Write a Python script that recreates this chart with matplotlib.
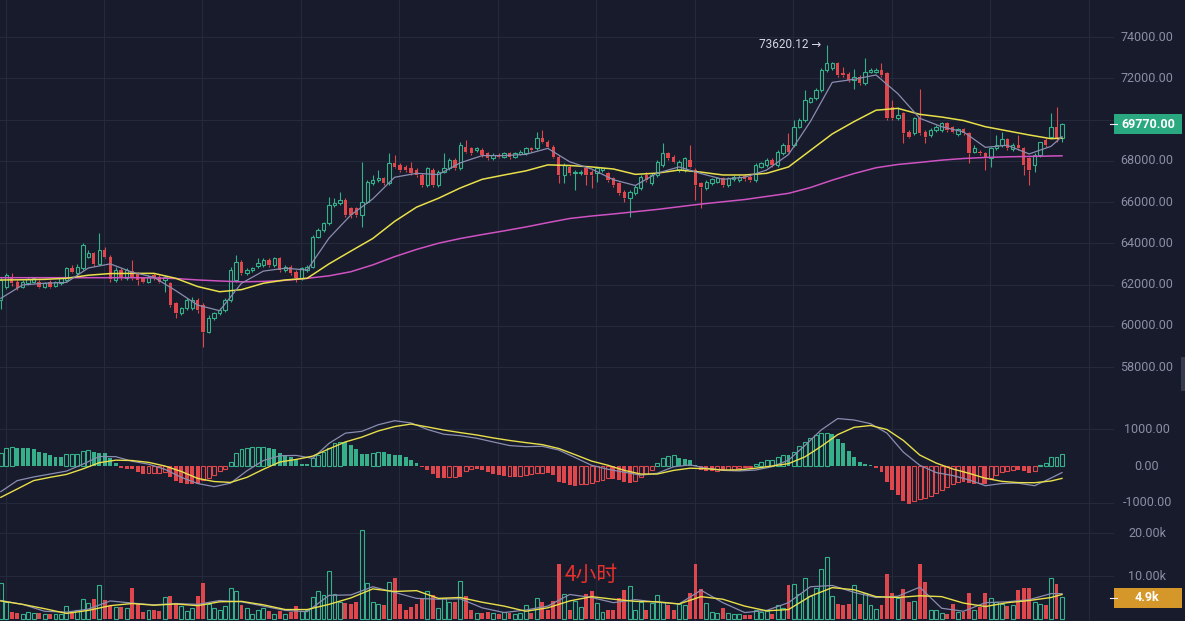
import numpy as np
import matplotlib
matplotlib.use("Agg")
import matplotlib.pyplot as plt
from matplotlib.patches import Rectangle
from matplotlib.transforms import blended_transform_factory

# ---- candles (4h) ----
opn = [61250, 61900, 62380, 62140, 61900, 62060, 62140, 62140, 61900, 62140,
       61940, 62060, 62220, 62780, 62540, 62780, 63350, 63510, 63010, 63670,
       63350, 62220, 62700, 62300, 62640, 62540, 62300, 62140, 62460, 62380,
       62220, 62060, 61100, 60600, 60850, 60850, 61250, 61000, 59710, 60360,
       60600, 60770, 61250, 62220, 63110, 62540, 62700, 62900, 62950, 63190,
       62950, 63270, 62700, 62860, 62620, 62300, 62700, 62870, 64320, 64640,
       64970, 65850, 65930, 66100, 65690, 65690, 65370, 66020, 66910, 67070,
       67150, 66910, 67880, 67800, 67710, 67630, 67550, 67310, 66830, 67550,
       66830, 67470, 67630, 68040, 67630, 68680, 68600, 68520, 68520, 68360,
       68120, 68280, 68200, 68390, 68200, 68330, 68360, 68600, 68600, 69090,
       68930, 68680, 68200, 67310, 67710, 67390, 67390, 67630, 67470, 67390,
       67550, 67390, 67150, 66910, 66500, 66180, 66420, 66660, 67310, 66910,
       67310, 67790, 68360, 68200, 67550, 67550, 68040, 67550, 66910, 66660,
       66910, 66990, 67150, 66830, 67100, 67070, 67260, 67230, 67070, 67710,
       67790, 68040, 67790, 68360, 68760, 68760, 69650, 69980, 70870, 71030,
       71430, 72400, 72480, 72750, 72240, 72210, 71920, 72080, 71750, 72320,
       72320, 72400, 72240, 70620, 70060, 70300, 69410, 69330, 70060, 69410,
       69250, 69490, 69490, 69810, 69620, 69300, 69520, 69330, 68440, 68440,
       68360, 68120, 68600, 68760, 69040, 68550, 68760, 68600, 68120, 67790,
       68280, 69010, 69170, 69650, 69090]
high = [62380, 62540, 62540, 62220, 62220, 62380, 62380, 62220, 62140, 62220,
        62180, 62380, 62860, 62940, 63000, 64000, 63670, 63600, 64480, 63830,
        63430, 62860, 62780, 62780, 63200, 62620, 62380, 62460, 62540, 62460,
        62460, 62140, 61170, 60930, 61330, 61410, 61330, 61090, 60520, 60680,
        60850, 61330, 62860, 63430, 63190, 62780, 62860, 63270, 63270, 63270,
        63350, 63350, 62940, 62940, 62700, 62860, 62950, 64400, 64720, 65050,
        66260, 66180, 66500, 66180, 65770, 65770, 67960, 67070, 67310, 67550,
        67230, 68360, 68280, 67880, 67800, 67960, 67630, 67390, 67710, 67630,
        67550, 68360, 68120, 68120, 68930, 69010, 68680, 68680, 68600, 68440,
        68360, 68360, 68440, 68440, 68440, 68520, 68680, 68680, 69410, 69490,
        69010, 68760, 68280, 67870, 67790, 67550, 67550, 67710, 67550, 67710,
        67710, 67470, 67230, 66990, 66580, 66580, 66830, 67310, 67470, 67390,
        68040, 68840, 68440, 68280, 68040, 68200, 68760, 67630, 66990, 67070,
        67180, 67230, 67230, 67230, 67310, 67310, 67340, 67310, 67870, 67960,
        68120, 68120, 68520, 68840, 69330, 69980, 70060, 71430, 71110, 71510,
        72480, 73620, 72800, 72800, 72560, 72290, 72430, 72160, 72960, 72480,
        72480, 72720, 72320, 70950, 70620, 70380, 69490, 70140, 71460, 69490,
        69570, 69730, 69900, 69900, 69700, 69600, 69600, 69410, 68770, 68520,
        68440, 68680, 69250, 69410, 69120, 68840, 69250, 68680, 68200, 68360,
        68930, 69090, 70330, 70590, 69820]
low = [60800, 61800, 61950, 61740, 61820, 61980, 62060, 61820, 61820, 61820,
       61860, 61980, 62140, 62540, 62460, 62700, 63270, 62900, 62940, 63270,
       62140, 62140, 62220, 62220, 62220, 61980, 62060, 62060, 62220, 62060,
       61650, 60920, 60360, 60520, 60770, 60770, 60600, 58990, 59630, 60280,
       60520, 60680, 61170, 62140, 62460, 62460, 62620, 62800, 62870, 62870,
       62870, 62620, 62620, 62460, 62140, 62220, 62620, 62780, 64240, 64560,
       64890, 65770, 65850, 65290, 65210, 65290, 64800, 65930, 66830, 66990,
       66830, 66830, 67630, 67470, 67470, 67310, 67230, 66740, 66740, 66740,
       66750, 67390, 67550, 67550, 67550, 68360, 68280, 68440, 68200, 68040,
       68040, 68120, 68120, 68100, 68120, 68280, 68280, 68440, 68520, 68850,
       68600, 68120, 66900, 66910, 67310, 66580, 67310, 66830, 66660, 66990,
       67470, 66990, 66740, 66340, 66020, 65290, 66340, 66580, 66990, 66830,
       67230, 67710, 68040, 67870, 67470, 67470, 67630, 66100, 65690, 66580,
       66830, 66910, 66740, 66740, 67020, 66990, 67020, 66990, 66990, 67630,
       67710, 67710, 67710, 68280, 68360, 68680, 69570, 69900, 70790, 70950,
       71350, 72320, 72400, 72080, 72080, 71840, 71460, 71670, 71670, 72240,
       72240, 72080, 69980, 69980, 69980, 68850, 69090, 69250, 69250, 68850,
       69170, 69410, 69410, 69410, 69330, 69220, 69250, 67880, 68360, 68280,
       67550, 67710, 68520, 68680, 68520, 68480, 68520, 67310, 66830, 67470,
       68200, 68680, 69090, 68930, 68930]
close = [62220, 62460, 62060, 61820, 62140, 62260, 62300, 61900, 62060, 61900,
         62100, 62300, 62800, 62620, 62860, 63900, 63510, 63000, 63670, 63350,
         62250, 62700, 62300, 62700, 62300, 62220, 62140, 62380, 62300, 62140,
         62380, 61000, 60600, 60850, 61250, 61250, 60770, 59710, 60360, 60600,
         60770, 61250, 62700, 63110, 62540, 62700, 62800, 63030, 63190, 62950,
         63270, 62700, 62860, 62540, 62300, 62780, 62870, 64320, 64640, 64970,
         65850, 65930, 66100, 65370, 65370, 65370, 66020, 66990, 67070, 67150,
         66910, 67880, 67710, 67550, 67550, 67390, 67310, 66830, 67630, 66830,
         67470, 67630, 68040, 67630, 68760, 68440, 68360, 68600, 68280, 68120,
         68280, 68200, 68360, 68170, 68360, 68440, 68600, 68520, 69090, 68930,
         68680, 68200, 67310, 67790, 67390, 67470, 67470, 67310, 67310, 67630,
         67630, 67070, 66830, 66420, 66180, 66500, 66740, 67230, 67070, 67310,
         67960, 68360, 68120, 67960, 67960, 68120, 67710, 66830, 66740, 66990,
         67100, 67150, 66830, 67150, 67230, 67230, 67100, 67070, 67790, 67870,
         68040, 67790, 68440, 68760, 68440, 69650, 69980, 70950, 71030, 71430,
         72400, 72720, 72720, 72160, 72160, 71920, 72080, 71750, 72320, 72400,
         72400, 72160, 70060, 70060, 70220, 69330, 69170, 70060, 69330, 69170,
         69490, 69650, 69810, 69490, 69410, 69520, 69330, 68360, 68600, 68360,
         68120, 68600, 68760, 69040, 68600, 68760, 68600, 67790, 67550, 68280,
         68930, 68760, 69650, 69090, 69770]

# ---- price moving averages ----
ma_idx = list(range(0, 193, 4)) + [194]
ma_short = [61330, 61980, 62060, 62100, 62800, 63000, 62600, 62350, 61700, 61000,
            60730, 62060, 62650, 62790, 62700, 64250, 65370, 66150, 67200, 67390,
            67330, 67900, 68250, 68250, 68310, 68600, 67950, 67600, 67080, 66800,
            67400, 67700, 67380, 67100, 67200, 67550, 68300, 69900, 71800, 71950,
            72160, 71250, 70060, 69650, 69400, 68650, 68750, 68330, 68700, 69170]
ma_mid = [62220, 62230, 62250, 62300, 62450, 62530, 62540, 62540, 62300, 61900,
          61650, 61750, 62060, 62220, 62300, 63000, 63620, 64230, 65060, 65750,
          66180, 66680, 67100, 67310, 67510, 67800, 67770, 67700, 67600, 67340,
          67400, 67550, 67450, 67310, 67310, 67390, 67700, 68500, 69300, 69900,
          70450, 70540, 70250, 70120, 69950, 69650, 69450, 69250, 69070, 69100]
ma_long = [62330, 62330, 62330, 62330, 62330, 62330, 62330, 62320, 62290, 62220,
           62170, 62130, 62150, 62200, 62300, 62420, 62620, 62950, 63350, 63700,
           64000, 64230, 64420, 64600, 64790, 65000, 65200, 65320, 65420, 65530,
           65640, 65770, 65900, 66010, 66120, 66270, 66420, 66700, 67060, 67380,
           67660, 67820, 67920, 68030, 68110, 68160, 68190, 68210, 68230, 68240]

# ---- MACD ----
macd_hist = [347, 484, 511, 493, 490, 480, 457, 393, 365, 301, 256, 250, 320, 325, 330,
             420, 425, 393, 365, 347, 210, 73, -64, -91, -95, -155, -219, -200, -195, -185,
             -160, -300, -420, -470, -480, -485, -490, -380, -330, -260, -150, -80, 119, 365, 457,
             502, 511, 515, 520, 484, 457, 365, 301, 256, 164, 55, 50, 210, 301, 393,
             484, 620, 666, 660, 575, 457, 329, 320, 365, 384, 370, 340, 301, 295, 237,
             164, 91, -37, -110, -219, -338, -340, -300, -292, -300, -128, -91, -95, -110, -155,
             -219, -246, -274, -270, -292, -280, -260, -230, -183, -180, -183, -246, -429, -475, -520,
             -548, -493, -480, -456, -402, -383, -340, -345, -383, -429, -456, -402, -292, -219, -110,
             73, 210, 274, 301, 210, 183, 164, 27, -110, -150, -150, -135, -140, -110, -100,
             -64, -37, -30, 55, 119, 164, 165, 256, 300, 295, 393, 548, 666, 758, 849,
             895, 900, 877, 730, 620, 420, 256, 119, 55, 27, -64, -155, -429, -657, -794,
             -950, -1040, -950, -913, -886, -822, -749, -657, -566, -500, -429, -440, -456, -480, -470,
             -493, -338, -246, -155, -130, -110, -120, -140, -183, -130, 30, 73, 237, 240, 329]
macd_idx = list(range(0, 193, 3)) + [194]
macd_dif = [-703, -400, -300, -220, -140, 50, 260, 256, 130, 50, -90, -310, -480, -566, -470,
            -130, 150, 280, 290, 210, 620, 900, 950, 1130, 1240, 1180, 1000, 870, 830, 760,
            660, 560, 530, 540, 438, 230, 20, -90, -170, -250, -200, -20, 30, -60, -120,
            -135, -110, -18, 160, 560, 990, 1300, 1260, 1160, 900, 380, 20, -180, -260, -380,
            -540, -480, -470, -540, -330, -180]
macd_dea = [-858, -630, -400, -310, -230, -80, 90, 160, 150, 100, 0, -150, -340, -425, -450,
            -310, -90, 110, 180, 270, 470, 660, 790, 960, 1080, 1150, 1070, 985, 915, 850,
            770, 700, 640, 585, 480, 310, 135, 20, -120, -220, -220, -120, -60, -75, -110,
            -105, -60, 0, 65, 250, 540, 860, 1060, 1110, 1000, 700, 300, 80, -80, -200,
            -335, -420, -455, -458, -410, -340]

# ---- volume (thousands) ----
volume = [8.4, 4.0, 1.7, 1.5, 1.2, 1.7, 1.5, 1.5, 1.2, 1.2, 1.1, 1.1, 3.0, 1.7, 2.2,
          4.6, 3.8, 4.6, 7.8, 4.5, 3.0, 2.8, 2.8, 2.5, 7.1, 3.6, 1.7, 2.2, 2.2, 1.9,
          5.2, 5.3, 3.8, 3.0, 1.9, 2.6, 5.3, 8.4, 3.4, 2.5, 2.2, 3.0, 7.1, 6.5, 3.2,
          2.6, 1.2, 2.2, 2.6, 1.9, 1.1, 1.9, 1.1, 1.7, 3.0, 1.9, 2.2, 5.2, 6.5, 5.5,
          11.2, 5.7, 4.0, 3.8, 3.6, 4.0, 20.6, 8.4, 4.0, 3.6, 3.2, 8.7, 9.5, 3.6, 2.0,
          2.8, 3.6, 5.0, 6.5, 5.5, 2.5, 5.0, 4.0, 4.0, 8.8, 5.3, 2.0, 1.5, 1.5, 1.7,
          1.5, 1.1, 1.7, 1.5, 1.2, 1.5, 3.2, 1.5, 4.8, 4.0, 2.0, 4.3, 12.9, 5.9, 2.2,
          4.3, 2.8, 5.9, 6.4, 3.8, 1.7, 2.2, 2.2, 4.8, 6.7, 7.7, 2.2, 4.0, 2.2, 3.8,
          5.6, 4.0, 3.3, 2.2, 3.6, 3.3, 6.1, 12.9, 6.9, 3.8, 1.7, 1.5, 2.6, 1.5, 1.2,
          1.1, 0.9, 0.9, 2.0, 1.7, 1.9, 1.2, 3.3, 2.6, 7.8, 8.1, 5.7, 9.5, 5.3, 7.3,
          11.6, 14.5, 5.3, 3.6, 3.2, 3.4, 7.8, 3.6, 6.1, 3.2, 2.4, 3.2, 10.4, 6.1, 5.0,
          6.9, 4.0, 4.3, 12.7, 8.7, 2.2, 2.0, 1.5, 1.2, 3.4, 1.7, 1.6, 6.0, 2.0, 2.8,
          6.1, 5.0, 4.0, 3.4, 3.0, 3.2, 6.7, 7.1, 7.1, 4.0, 3.6, 3.2, 9.5, 8.2, 5.1]
vol_ma_idx = list(range(0, 193, 4)) + [194]
vol_ma_a = [4.2, 3.4, 2.4, 1.3, 2.0, 3.1, 3.6, 3.2, 3.5, 3.1, 4.0, 4.1, 3.3, 2.2, 2.2,
            3.4, 4.9, 7.0, 6.4, 6.6, 4.8, 5.0, 3.9, 3.0, 1.8, 2.6, 4.2, 5.2, 4.6, 4.1,
            4.0, 3.5, 5.2, 4.6, 3.0, 1.9, 2.2, 5.3, 7.3, 6.8, 5.2, 5.0, 5.4, 5.2, 3.7,
            2.9, 3.8, 4.3, 5.0, 5.7]
vol_ma_b = [4.3, 3.4, 1.8, 1.6, 2.3, 4.2, 3.7, 3.3, 3.6, 3.4, 4.3, 4.0, 3.0, 2.0, 1.7,
            5.5, 5.6, 7.5, 6.2, 4.8, 4.6, 4.7, 2.6, 1.5, 2.1, 3.0, 5.7, 5.0, 3.8, 4.5,
            3.9, 3.5, 6.7, 3.8, 1.5, 2.0, 3.8, 7.5, 7.8, 6.2, 5.0, 5.3, 7.4, 2.5, 1.8,
            3.8, 4.0, 4.5, 5.9, 5.9]

price_ticks = [58000, 60000, 62000, 64000, 66000, 68000, 70000, 72000, 74000]
last_price = "69770.00"
last_vol = "4.9k"
peak_label = "73620.12 \u2192"

BG = "#171b2b"
GRID = "#242a3b"
GREEN = "#35b08a"
RED = "#e0474c"
TICK = "#8a8fa6"
MA_GRAY = "#8a8db0"
MA_YEL = "#e8df4a"
MA_MAG = "#cf52c2"

W, H = 1185, 621
fig = plt.figure(figsize=(W / 100, H / 100), dpi=100, facecolor=BG)


def px_axes(top, bottom):
    return fig.add_axes([0, 1 - bottom / H, 1114 / W, (bottom - top) / H], facecolor=BG)


ax_p = px_axes(0, 400)
ax_m = px_axes(400, 515)
ax_v = px_axes(515, 621)

opn, high, low, close = map(np.array, (opn, high, low, close))
x = np.arange(len(close))
up = close >= opn
cols = np.where(up, GREEN, RED)
xlim = (-0.8 / 5.47, (1114 - 0.8) / 5.47)

for ax in (ax_p, ax_m, ax_v):
    ax.set_xlim(*xlim)
    for s in ax.spines.values():
        s.set_visible(False)
    ax.set_xticks([])
    ax.set_yticks([])
    for g in np.arange(0.87, 205, 18):
        ax.axvline(g, color=GRID, lw=0.8, zorder=0)

# price panel
ax_p.set_ylim(56400, 75794)
for t in price_ticks:
    ax_p.axhline(t, color=GRID, lw=0.8, zorder=0)
bot = np.minimum(opn, close)
top = np.maximum(opn, close)
body = np.maximum(top - bot, 25)
ax_p.vlines(x, low, bot, color=cols, lw=0.8, zorder=2)
ax_p.vlines(x, top, high, color=cols, lw=0.8, zorder=2)
ax_p.bar(x[up], body[up], bottom=bot[up], width=0.62, facecolor=BG,
         edgecolor=GREEN, linewidth=0.8, zorder=3)
ax_p.bar(x[~up], body[~up], bottom=bot[~up], width=0.62, color=RED, zorder=3)
ax_p.plot(ma_idx, ma_long, color=MA_MAG, lw=1.1, zorder=4)
ax_p.plot(ma_idx, ma_mid, color=MA_YEL, lw=1.1, zorder=4)
ax_p.plot(ma_idx, ma_short, color=MA_GRAY, lw=0.9, zorder=4)
ax_p.text(151 - 1.0, 73620, peak_label, color="#d4d7e3", fontsize=8.5,
          family=["Roboto", "DejaVu Sans"], ha="right", va="center", zorder=5)

# MACD panel
ax_m.set_ylim(-1342, 1808)
for t in (-1000, 1000):
    ax_m.axhline(t, color=GRID, lw=0.8, zorder=0)
hist = np.array(macd_hist)
rising = np.r_[True, hist[1:] > hist[:-1]]
hcol = np.where(hist >= 0, GREEN, RED)
for i, v in enumerate(hist):
    if rising[i]:
        ax_m.bar(i, v, width=0.72, facecolor=BG, edgecolor=hcol[i], linewidth=0.8, zorder=2)
    else:
        ax_m.bar(i, v, width=0.72, color=hcol[i], zorder=2)
ax_m.plot(macd_idx, macd_dif, color=MA_GRAY, lw=0.9, zorder=3)
ax_m.plot(macd_idx, macd_dea, color=MA_YEL, lw=1.0, zorder=3)

# volume panel
ax_v.set_ylim(-0.465, 24.19)
for t in (10, 20):
    ax_v.axhline(t, color=GRID, lw=0.8, zorder=0)
vol = np.array(volume)
ax_v.bar(x[up], vol[up], width=0.72, facecolor=BG, edgecolor=GREEN, linewidth=0.8, zorder=2)
ax_v.bar(x[~up], vol[~up], width=0.72, color=RED, zorder=2)
ax_v.plot(vol_ma_idx, vol_ma_b, color=MA_GRAY, lw=0.9, zorder=3)
ax_v.plot(vol_ma_idx, vol_ma_a, color=MA_YEL, lw=1.0, zorder=3)
ax_v.text(103, 10.3, "4小时", color="#e8302e", fontsize=15,
          family=["Noto Sans CJK SC", "DejaVu Sans"], ha="left", va="center", zorder=5)

# right-hand labels
lab_x = 1147 / W
tick_font = dict(color=TICK, fontsize=9, family=["Roboto", "DejaVu Sans"],
                 ha="center", va="center")
for ax, ticks, fmt in ((ax_p, [t for t in price_ticks if t != 70000], "{:.2f}"),
                       (ax_m, [1000, 0, -1000], "{:.2f}"),
                       (ax_v, [20, 10], "{:.2f}k")):
    tr = blended_transform_factory(fig.transFigure, ax.transData)
    for t in ticks:
        ax.text(lab_x, t, fmt.format(t), transform=tr, clip_on=False, **tick_font)

tr = blended_transform_factory(fig.transFigure, ax_p.transData)
ax_p.add_patch(Rectangle((1114 / W, 69770 - 480), 68 / W, 960, transform=tr,
                         facecolor="#2aa880", edgecolor="none", clip_on=False, zorder=6))
ax_p.plot([1110 / W, 1117 / W], [69770, 69770], transform=tr, color="#e8e8ee",
          lw=0.8, clip_on=False, zorder=7)
ax_p.text(lab_x + 0.001, 69770, last_price, transform=tr, color="white", fontsize=9,
          family=["Roboto", "DejaVu Sans"], fontweight="bold", ha="center", va="center",
          clip_on=False, zorder=7)

tr = blended_transform_factory(fig.transFigure, ax_v.transData)
ax_v.add_patch(Rectangle((1114 / W, 4.9 - 2.3), 68 / W, 4.6, transform=tr,
                         facecolor="#d6972a", edgecolor="none", clip_on=False, zorder=6))
ax_v.plot([1110 / W, 1117 / W], [4.9, 4.9], transform=tr, color="#e8e8ee",
          lw=0.8, clip_on=False, zorder=7)
ax_v.text(lab_x, 4.9, last_vol, transform=tr, color="white", fontsize=9,
          family=["Roboto", "DejaVu Sans"], fontweight="bold", ha="center", va="center",
          clip_on=False, zorder=7)

# small scroll handle at the right edge
fig.patches.append(Rectangle((1181 / W, 1 - 391 / H), 4 / W, 34 / H,
                             transform=fig.transFigure, facecolor="#353a4d",
                             edgecolor="none"))

fig.savefig("out.png", dpi=100, facecolor=BG)
